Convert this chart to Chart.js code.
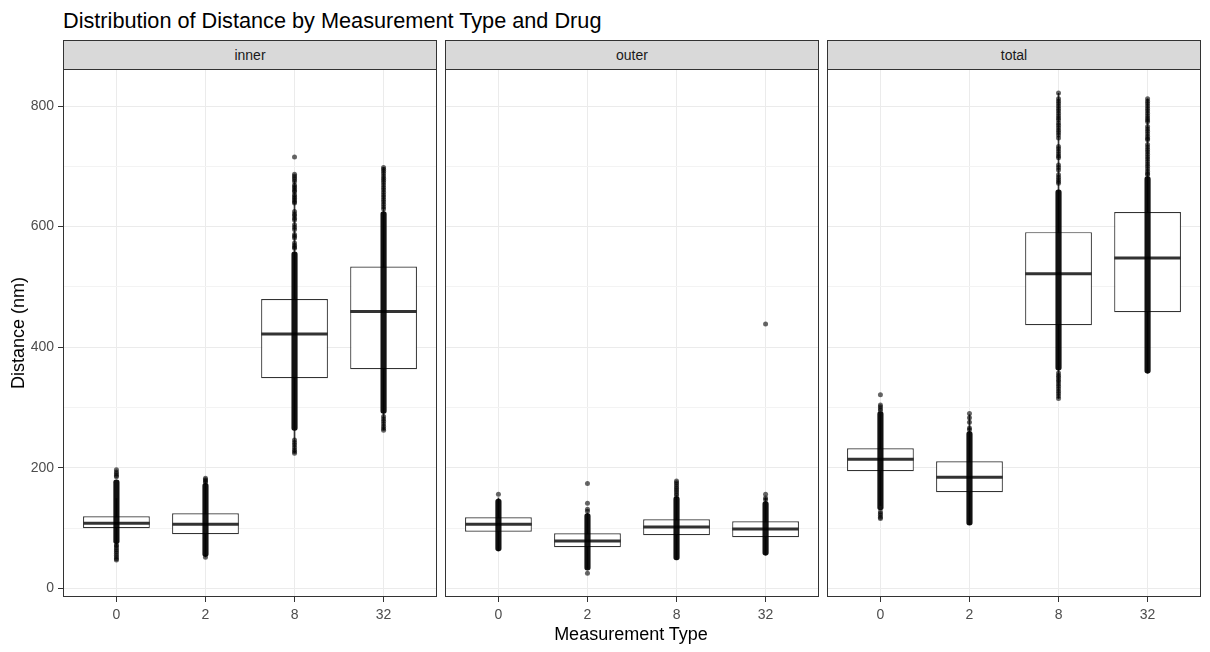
<!DOCTYPE html>
<html>
<head>
<meta charset="utf-8">
<script src="https://cdn.jsdelivr.net/npm/chart.js@4.4.1/dist/chart.umd.min.js"></script>
<style>
html,body{margin:0;padding:0;background:#fff;}
#wrap{position:relative;width:1210px;height:652px;overflow:hidden;background:#fff;font-family:"Liberation Sans",Arial,sans-serif;}
canvas{position:absolute;top:69px;}
.strip{position:absolute;top:40px;height:30px;width:374px;box-sizing:border-box;border:1px solid #333;background:#D9D9D9;color:#1A1A1A;font-size:14px;line-height:30px;text-align:center;}
.strip span{position:relative;top:-1px;}
#title{position:absolute;left:63px;top:10px;font-size:21.7px;line-height:22px;color:#000;white-space:nowrap;}
#xtitle{position:absolute;left:631px;top:634px;transform:translate(-50%,-50%);font-size:18px;line-height:18px;color:#000;white-space:nowrap;}
#ytitle{position:absolute;left:18px;top:333px;transform:translate(-50%,-50%) rotate(-90deg);font-size:18px;line-height:18px;color:#000;white-space:nowrap;}
</style>
</head>
<body>
<div id="wrap">
  <div id="title">Distribution of Distance by Measurement Type and Drug</div>
  <div class="strip" style="left:63px"><span>inner</span></div>
  <div class="strip" style="left:445px"><span>outer</span></div>
  <div class="strip" style="left:827px"><span>total</span></div>
  <canvas id="c0" width="437" height="583" style="left:0px"></canvas>
  <canvas id="c1" width="374" height="583" style="left:445px"></canvas>
  <canvas id="c2" width="374" height="583" style="left:827px"></canvas>
  <div id="xtitle">Measurement Type</div>
  <div id="ytitle">Distance (nm)</div>
</div>
<script>
// ---------------- DATA ----------------
const categories = ['0', '2', '8', '32'];
const facets = ['inner', 'outer', 'total'];
const yMajorTicks = [0, 200, 400, 600, 800];
const yMinorTicks = [100, 300, 500, 700];

// inner
const innerQ1 = [99.6, 89.6, 348.5, 363.5];
const innerMedian = [107.9, 106.2, 422, 459];
const innerQ3 = [119.5, 124.5, 479.7, 533.8];
const innerWhiskerLow = [70, 52, 225, 263];
const innerWhiskerHigh = [149, 177, 676, 698];
const innerDenseLow = [74, 53, 262, 290];
const innerDenseHigh = [180, 174, 558, 625];
const innerPoints = [
  [196.6, 193, 190, 187, 185, 72, 70, 67, 64, 61, 58, 55, 52, 49, 47],
  [182.6, 180, 178, 176, 51.4],
  [715.4, 687, 684, 681, 678, 675, 669, 666, 663, 660, 658, 653, 650, 647, 644, 641, 639,
   625, 621, 618, 614, 611, 603, 599, 595, 587, 584, 581, 572.6, 569, 566, 564,
   246, 242, 238, 234, 230, 227, 224],
  [698, 695, 692, 688, 684, 680, 677, 673, 669, 665, 661, 657, 653, 649, 645, 641, 637, 633, 629,
   285, 281, 277, 273, 269, 265, 262]
];

// outer
const outerQ1 = [94, 68, 88, 84.6];
const outerMedian = [106.2, 78.5, 101.7, 98.4];
const outerQ3 = [117.8, 91.3, 114.5, 111.2];
const outerWhiskerLow = [62, 33, 48, 55];
const outerWhiskerHigh = [150, 125, 154, 150];
const outerDenseLow = [62, 30, 47, 55];
const outerDenseHigh = [148, 124, 152, 144];
const outerPoints = [
  [156],
  [174, 141, 131, 128, 24.9],
  [178, 175, 172, 169, 166, 163, 160, 157, 154],
  [438.5, 156, 150, 147]
];

// total
const totalQ1 = [194.2, 159.3, 436.5, 458];
const totalMedian = [214, 184.2, 521.7, 547.7];
const totalQ3 = [232.4, 210.8, 590.8, 624];
const totalWhiskerLow = [137, 105, 315, 357];
const totalWhiskerHigh = [290, 288, 821, 812];
const totalDenseLow = [130, 105, 362, 357];
const totalDenseHigh = [293, 260, 661, 683];
const totalPoints = [
  [321, 304, 301, 298, 295, 127, 124, 121, 118, 116],
  [290, 283, 275.5, 266, 263],
  [821.6, 812, 808, 804, 800, 796, 792, 788, 784, 780, 777, 772, 768, 764, 760, 756, 752, 747,
   733, 729, 725, 721, 717, 714, 702, 698, 694, 686, 682, 678, 675, 672,
   357, 353, 350, 346, 343, 339, 335, 331, 327, 323, 319, 315],
  [812, 808, 804, 800, 796, 792, 788, 784, 780, 777, 774, 766, 762, 758, 754, 750, 746, 744,
   736, 732, 728, 724, 720, 716, 712, 708, 704, 700, 696, 692, 688, 686]
];

// ---------------- build per-facet tables ----------------
const facetStats = {
  inner: {q1: innerQ1, med: innerMedian, q3: innerQ3, wlo: innerWhiskerLow, whi: innerWhiskerHigh, dlo: innerDenseLow, dhi: innerDenseHigh, pts: innerPoints},
  outer: {q1: outerQ1, med: outerMedian, q3: outerQ3, wlo: outerWhiskerLow, whi: outerWhiskerHigh, dlo: outerDenseLow, dhi: outerDenseHigh, pts: outerPoints},
  total: {q1: totalQ1, med: totalMedian, q3: totalQ3, wlo: totalWhiskerLow, whi: totalWhiskerHigh, dlo: totalDenseLow, dhi: totalDenseHigh, pts: totalPoints}
};

const FONT = '"Liberation Sans", Arial, sans-serif';
const allYTicks = yMajorTicks.concat(yMinorTicks).sort((a, b) => a - b);
const isMajor = v => yMajorTicks.indexOf(v) >= 0;

const panelBorder = {
  id: 'panelBorder',
  afterDraw(chart) {
    const {ctx, chartArea: a} = chart;
    ctx.save();
    ctx.strokeStyle = '#333333';
    ctx.lineWidth = 1;
    ctx.strokeRect(a.left + 0.5, a.top + 0.5, a.right - a.left - 1, a.bottom - a.top - 1);
    ctx.restore();
  }
};

function datasetsFor(f) {
  const d = facetStats[f];
  const pts = [];
  d.pts.forEach((arr, i) => arr.forEach(v => pts.push({x: i, y: v})));
  return [
    {type: 'bar', label: 'whisker', data: categories.map((c, i) => ({x: i, y: [d.wlo[i], d.whi[i]]})),
     backgroundColor: '#333333', barThickness: 1, grouped: false, order: 4},
    {type: 'bar', label: 'box', data: categories.map((c, i) => ({x: i, y: [d.q1[i], d.q3[i]]})),
     backgroundColor: '#ffffff', borderColor: '#333333', borderWidth: 1.2, borderSkipped: false,
     barPercentage: 0.75, categoryPercentage: 1, grouped: false, order: 3},
    {type: 'scatter', label: 'median', data: categories.map((c, i) => ({x: i, y: d.med[i]})),
     pointStyle: 'line', pointRadius: 33.4, pointBorderColor: '#333333', pointBorderWidth: 3, order: 2},
    {type: 'bar', label: 'dense', data: categories.map((c, i) => ({x: i, y: [d.dlo[i], d.dhi[i]]})),
     backgroundColor: 'rgba(0,0,0,0.93)', barThickness: 5.5, borderRadius: 2.7, borderSkipped: false,
     grouped: false, order: 1},
    {type: 'scatter', label: 'points', data: pts,
     pointRadius: 2.5, pointBackgroundColor: 'rgba(0,0,0,0.6)', pointBorderWidth: 0, order: 0}
  ];
}

function makeChart(id, f, showY) {
  return new Chart(document.getElementById(id), {
    type: 'bar',
    data: {datasets: datasetsFor(f)},
    plugins: [panelBorder],
    options: {
      responsive: false,
      animation: false,
      devicePixelRatio: 1,
      events: [],
      layout: {padding: 0, autoPadding: false},
      plugins: {legend: {display: false}, tooltip: {enabled: false}, title: {display: false}},
      scales: {
        x: {
          type: 'linear', min: -0.6, max: 3.6, offset: false, bounds: 'data',
          afterBuildTicks: s => { s.ticks = categories.map((c, i) => ({value: i})); },
          afterFit: s => { s.height = 55; s.paddingLeft = 0; s.paddingRight = 0; },
          ticks: {autoSkip: false, maxRotation: 0, minRotation: 0, padding: 5, color: '#4D4D4D',
                  font: {family: FONT, size: 14}, callback: v => categories[v]},
          grid: {offset: false, color: '#EBEBEB', lineWidth: 1, tickColor: '#333333', tickLength: 5, drawTicks: true},
          border: {display: false}
        },
        y: {
          type: 'linear', min: -14.4, max: 861.4, bounds: 'data', beginAtZero: false,
          afterBuildTicks: s => { s.ticks = allYTicks.map(v => ({value: v})); },
          afterFit: s => { s.width = showY ? 63 : 0; s.paddingTop = 0; s.paddingBottom = 0; },
          ticks: {display: showY, autoSkip: false, padding: 4, color: '#4D4D4D',
                  font: {family: FONT, size: 14}, callback: v => isMajor(v) ? String(v) : ''},
          grid: {
            color: c => (c.tick && isMajor(c.tick.value)) ? '#EBEBEB' : '#F3F3F3',
            lineWidth: 1,
            tickColor: c => (c.tick && isMajor(c.tick.value)) ? '#333333' : 'rgba(0,0,0,0)',
            tickLength: 5,
            drawTicks: showY
          },
          border: {display: false}
        }
      }
    }
  });
}

makeChart('c0', facets[0], true);
makeChart('c1', facets[1], false);
makeChart('c2', facets[2], false);
</script>
</body>
</html>
